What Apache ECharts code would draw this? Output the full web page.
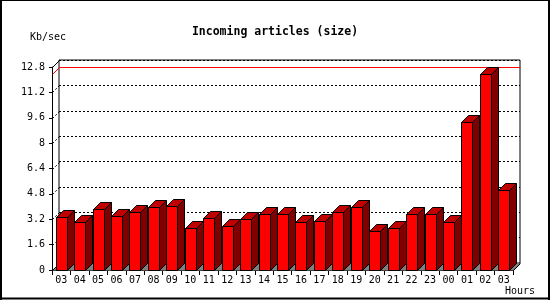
<!DOCTYPE html>
<html lang="en">
<head>
<meta charset="UTF-8">
<title>Incoming articles (size)</title>
<script src="https://cdn.jsdelivr.net/npm/echarts@6/dist/echarts.min.js"></script>
<style>
  *{margin:0;padding:0}
  html,body{width:100%;height:100%;background:#fff}
</style>
</head>
<body>
<div id="main" style="width:550px;height:300px"></div>
<script type="text/javascript">
// hours shown on the x axis
var hours = ['03','04','05','06','07','08','09','10','11','12','13','14','15','16','17','18','19','20','21','22','23','00','01','02','03'];
// Kb/sec per hour
var kbps = [3.37, 3.05, 3.83, 3.38, 3.63, 3.95, 4.01, 2.63, 3.25, 2.75, 3.19, 3.51, 3.51, 3.05, 3.12, 3.68, 4.00, 2.49, 2.62, 3.51, 3.51, 3.05, 9.35, 12.34, 5.02];
// y axis ticks
var yTicks = [0, 1.6, 3.2, 4.8, 6.4, 8, 9.6, 11.2, 12.8];

var DEPTH = 7;
var MONO = '"DejaVu Sans Mono", monospace';
var maxVal = Math.max.apply(null, kbps);

var myChart = echarts.init(document.getElementById('main'));

var barData = [];
for (var i = 0; i < kbps.length; i++) {
  barData.push([i, kbps[i]]);
}

// floor, left wall ticks, max line
function renderWalls(params, api) {
  var cs = params.coordSys;
  var d = DEPTH;
  var gx = cs.x + 0.5, gr = cs.x + cs.width + 0.5;
  var gb = Math.round(api.coord([0, 0])[1]) + 0.5;
  var gt = Math.round(api.coord([0, yTicks[yTicks.length - 1]])[1]) + 0.5;
  var kids = [];
  kids.push({
    type: 'polygon',
    shape: {points: [[gx, gb], [gr, gb], [gr + d, gb - d], [gx + d, gb - d]]},
    style: {fill: '#808080', stroke: null}
  });
  var black = {stroke: '#000', lineWidth: 1};
  kids.push({type: 'line', shape: {x1: gx, y1: gb, x2: gx + d, y2: gb - d}, style: black});
  kids.push({type: 'line', shape: {x1: gr, y1: gb, x2: gr + d, y2: gb - d}, style: black});
  kids.push({type: 'line', shape: {x1: gx, y1: gt, x2: gx + d, y2: gt - d}, style: black});
  for (var k = 1; k < yTicks.length - 1; k++) {
    var y = Math.round(api.coord([0, yTicks[k]])[1]) + 0.5;
    kids.push({
      type: 'line',
      shape: {x1: gx, y1: y, x2: gx + d, y2: y - d},
      style: {stroke: '#000', lineWidth: 1, lineDash: [2, 2]}
    });
  }
  var ym = Math.round(api.coord([0, maxVal])[1]) + 0.5;
  kids.push({type: 'line', shape: {x1: gx, y1: ym, x2: gx + d, y2: ym - d}, style: {stroke: '#ff0000', lineWidth: 1}});
  kids.push({type: 'line', shape: {x1: gx + d, y1: ym - d, x2: gr + d, y2: ym - d}, style: {stroke: '#ff0000', lineWidth: 1}});
  return {type: 'group', children: kids};
}

// 3d bar: front, top, side
function renderBar(params, api) {
  var d = DEPTH;
  var c = api.coord([api.value(0), api.value(1)]);
  var o = api.coord([api.value(0), 0]);
  var x0 = Math.round(c[0] - 5.5) + 0.5;
  var x1 = x0 + 11;
  var yt = Math.round(c[1]) + 0.5;
  var yb = Math.round(o[1]) + 0.5;
  var edge = {stroke: '#000', lineWidth: 1};
  return {
    type: 'group',
    children: [
      {type: 'polygon', shape: {points: [[x1, yt], [x1 + d, yt - d], [x1 + d, yb - d], [x1, yb]]},
        style: echarts.util.extend({fill: '#800000'}, edge)},
      {type: 'polygon', shape: {points: [[x0, yt], [x1, yt], [x1 + d, yt - d], [x0 + d, yt - d]]},
        style: echarts.util.extend({fill: '#c00000'}, edge)},
      {type: 'rect', shape: {x: x0, y: yt, width: x1 - x0, height: yb - yt},
        style: echarts.util.extend({fill: '#ff0000'}, edge)}
    ]
  };
}

var option = {
  backgroundColor: '#fff',
  animation: false,
  title: {
    text: 'Incoming articles (size)',
    left: 'center',
    top: 21,
    textStyle: {fontFamily: MONO, fontWeight: 'bold', fontSize: 11.5, color: '#000'}
  },
  grid: [
    {left: 52, right: 37, top: 67, bottom: 30},
    {left: 59, right: 30, top: 60, bottom: 37, show: true, backgroundColor: '#fff', borderColor: '#000', borderWidth: 1}
  ],
  xAxis: [
    {
      type: 'category', gridIndex: 0, data: hours,
      axisLine: {lineStyle: {color: '#000'}},
      axisTick: {show: true, length: 5, lineStyle: {color: '#000'}},
      axisLabel: {color: '#000', fontFamily: MONO, fontSize: 10, margin: 5, interval: 0}
    },
    {type: 'category', gridIndex: 1, data: hours, show: false}
  ],
  yAxis: [
    {
      type: 'value', gridIndex: 0, min: 0, max: 12.8, interval: 1.6,
      axisLine: {show: true, lineStyle: {color: '#000'}},
      axisTick: {show: true, length: 3, lineStyle: {color: '#000'}},
      axisLabel: {color: '#000', fontFamily: MONO, fontSize: 10, margin: 7},
      splitLine: {show: false}
    },
    {
      type: 'value', gridIndex: 1, min: 0, max: 12.8, interval: 1.6,
      axisLine: {show: false}, axisTick: {show: false}, axisLabel: {show: false},
      splitLine: {show: true, lineStyle: {color: '#000', type: [2, 2]}}
    }
  ],
  series: [
    {type: 'custom', xAxisIndex: 0, yAxisIndex: 0, silent: true, data: [[0, 0]], renderItem: renderWalls},
    {type: 'custom', name: 'Kb/sec', xAxisIndex: 0, yAxisIndex: 0, silent: true, data: barData, renderItem: renderBar}
  ],
  graphic: [
    {type: 'text', left: 30, top: 32, style: {text: 'Kb/sec', font: '10px ' + MONO, fill: '#000'}},
    {type: 'text', left: 505, top: 286, style: {text: 'Hours', font: '10px ' + MONO, fill: '#000'}},
    {type: 'line', shape: {x1: 0, y1: 0.5, x2: 550, y2: 0.5}, style: {stroke: '#000', lineWidth: 1}},
    {type: 'line', shape: {x1: 1, y1: 0, x2: 1, y2: 300}, style: {stroke: '#000', lineWidth: 2}},
    {type: 'line', shape: {x1: 549, y1: 0, x2: 549, y2: 300}, style: {stroke: '#000', lineWidth: 2}},
    {type: 'line', shape: {x1: 0, y1: 298.5, x2: 550, y2: 298.5}, style: {stroke: '#000', lineWidth: 2}}
  ]
};

myChart.setOption(option);
</script>
</body>
</html>
